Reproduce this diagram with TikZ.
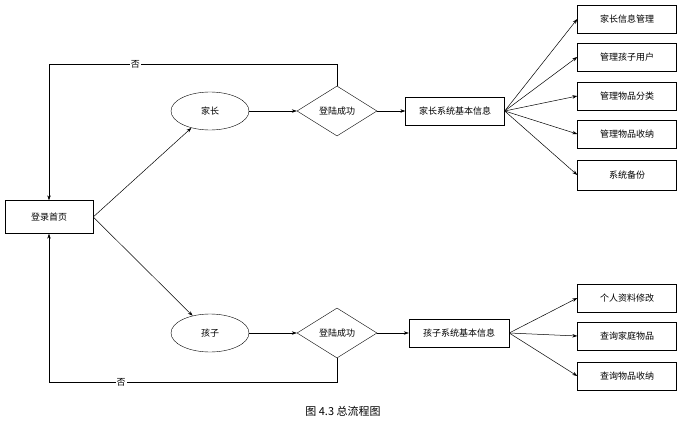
\documentclass[tikz,border=0pt]{standalone}
\usepackage{fontspec}
\newfontfamily\cjk{Noto Sans CJK SC}
\usetikzlibrary{shapes.geometric,arrows.meta}
\begin{document}
\begin{tikzpicture}[x=1pt,y=-1pt,font=\cjk\fontsize{9}{10}\selectfont,
 box/.style={draw,fill=white,minimum width=99pt,minimum height=28pt,inner sep=1pt},
 ell/.style={draw,ellipse,minimum width=78pt,minimum height=38pt},
 dia/.style={draw,diamond,aspect=1.6,minimum width=80pt,minimum height=50pt,inner sep=0pt},
 arr/.style={-{Stealth[length=5pt,width=3.5pt]},line width=0.5pt}]
\useasboundingbox (0,0) rectangle (687,436);
\node[box,minimum width=88pt,minimum height=33pt] (home) at (49,217) {登录首页};
\node[ell] (p) at (210,111) {家长};
\node[dia] (d1) at (337,111) {登陆成功};
\node[box] (ps) at (455,111) {家长系统基本信息};
\node[box] (r1) at (627,19) {家长信息管理};
\node[box] (r2) at (627,57) {管理孩子用户};
\node[box] (r3) at (627,96) {管理物品分类};
\node[box] (r4) at (627,134) {管理物品收纳};
\node[box,minimum height=30pt] (r5) at (627,175) {系统备份};
\node[ell] (c) at (210,333) {孩子};
\node[dia] (d2) at (337,333) {登陆成功};
\node[box,minimum width=100pt] (cs) at (459,333) {孩子系统基本信息};
\node[box] (s1) at (627,298) {个人资料修改};
\node[box] (s2) at (627,336) {查询家庭物品};
\node[box] (s3) at (627,376) {查询物品收纳};
\node (cap) at (343,411) {\fontsize{11}{12}\selectfont 图 4.3 总流程图};
\draw[arr] (home.east) -- (p);
\draw[arr] (home.east) -- (c);
\draw[arr] (p) -- (d1);
\draw[arr] (d1) -- (ps);
\draw[arr] (c) -- (d2);
\draw[arr] (d2) -- (cs);
\foreach \t in {r1,r2,r3,r4,r5} \draw[arr] (ps.east) -- (\t.west);
\foreach \t in {s1,s2,s3} \draw[arr] (cs.east) -- (\t.west);
\draw[arr] (d1.north) -- (337,64) -- node[fill=white,inner sep=1pt,pos=0.7]{否} (49,64) -- (home.north);
\draw[arr] (d2.south) -- (337,382) -- node[fill=white,inner sep=1pt,pos=0.75]{否} (49,382) -- (home.south);
\end{tikzpicture}
\end{document}
